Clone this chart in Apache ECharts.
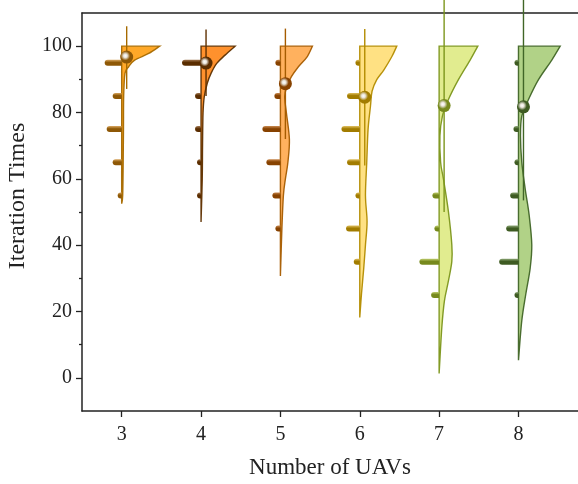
<!DOCTYPE html>
<html>
<head>
<meta charset="utf-8">
<script src="https://cdn.jsdelivr.net/npm/echarts@6/dist/echarts.min.js"></script>
<style>
  html, body { margin: 0; padding: 0; background: #fff; }
  #chart { width: 578px; height: 484px; }
</style>
</head>
<body>
<div id="chart"></div>
<script>
// number of UAVs on the x axis
var uavCounts = [3, 4, 5, 6, 7, 8];
// mean and mean±SD line of the iteration times
var meanIter = [96.7, 94.9, 88.7, 84.6, 82.1, 81.7];
var sdLow = [87.1, 85.0, 72.0, 64.0, 50.0, 53.5];
var sdHigh = [106.0, 105.0, 105.3, 105.2, 115.0, 115.0];

// histogram bins (left side) and relative counts per bin
var binCenters = [25, 35, 45, 55, 65, 75, 85, 95];
var hist3 = [0, 0, 0, 4, 9, 15, 9, 17];
var hist4 = [0, 0, 0, 4, 4, 6, 6, 19];
var hist5 = [0, 0, 5, 8, 14, 18, 6, 5];
var hist6 = [0, 6, 13.7, 4.3, 12.7, 18.3, 12.7, 4.3];
var hist7 = [8, 19.7, 4.7, 6.7, 0, 0, 0, 0];
var hist8 = [4, 19.3, 12.3, 8.3, 4, 5, 0, 4];

// half violin (right side): [iteration value, relative density]
var violin3 = [[100, 38], [97.8, 27], [95.8, 13], [93.8, 7], [91.8, 3.3], [85, 2], [75, 1.8], [65, 1.5], [55, 1], [52.5, 0]];
var violin4 = [[100, 34], [97.3, 24], [94.8, 15.7], [91.8, 10], [88.9, 6.3], [84.9, 3.3], [79.9, 2], [70, 1.5], [60, 1.2], [47, 0]];
var violin5 = [[100, 32], [96.8, 26.7], [93.8, 18], [90.8, 11], [87.9, 6.7], [84.9, 4.3], [79.9, 6], [71.9, 9], [65, 7.5], [60, 5], [55, 3], [45, 1.5], [30.7, 0]];
var violin6 = [[100, 37], [96.8, 32], [92.8, 24], [89.9, 17], [86.4, 12.3], [81.9, 10.7], [74.9, 8.3], [65, 7], [55, 5.7], [47.1, 7.3], [40.1, 5.7], [33.1, 4], [25.2, 1.7], [18.2, 0]];
var violin7 = [[100, 38.7], [95.8, 31], [89.9, 19.3], [83.9, 9.3], [78.9, 3.3], [72.9, 0.8], [65, 1.5], [60, 4.3], [50.1, 9.3], [40.1, 12.7], [35.1, 12.7], [29.2, 9.3], [23.2, 5.3], [15.2, 2.7], [1.3, 0]];
var violin8 = [[100, 41.7], [95.8, 33.3], [89.9, 20], [83.9, 10], [78.9, 3.3], [72.9, 2], [65, 3.3], [57, 6.7], [49, 10.7], [40.1, 13.3], [33.1, 11.7], [25.2, 7.3], [17.2, 3.3], [5.3, 0]];

var yMajor = [0, 20, 40, 60, 80, 100];
var yMinor = [10, 30, 50, 70, 90];

var hists = [hist3, hist4, hist5, hist6, hist7, hist8];
var violins = [violin3, violin4, violin5, violin6, violin7, violin8];

var fillColors = ['#FFA31C', '#FF8B22', '#FFAD55', '#FFDF7C', '#DFEB89', '#ADD081'];
var edgeColors = ['#A66A00', '#5E3000', '#A65C00', '#B38C00', '#7C961C', '#416627'];
var barColors = ['#8E5806', '#5A2D00', '#874200', '#A27C00', '#76891D', '#3E5B22'];
var lightBar = ['#D9A760', '#A07650', '#C98A50', '#E0C060', '#C1CF70', '#8EA877'];

var font = '"Liberation Serif", "Times New Roman", serif';
var axisColor = '#222';

function smoothPath(pts) {
  var d = '';
  for (var i = 0; i < pts.length - 1; i++) {
    var p0 = pts[i - 1] || pts[i], p1 = pts[i], p2 = pts[i + 1], p3 = pts[i + 2] || p2;
    var c1x = p1[0] + (p2[0] - p0[0]) / 6, c1y = p1[1] + (p2[1] - p0[1]) / 6;
    var c2x = p2[0] - (p3[0] - p1[0]) / 6, c2y = p2[1] - (p3[1] - p1[1]) / 6;
    d += ' C' + c1x + ',' + c1y + ' ' + c2x + ',' + c2y + ' ' + p2[0] + ',' + p2[1];
  }
  return d;
}

function renderItem(params, api) {
  var i = params.dataIndex;
  var cat = api.value(0);
  var children = [];

  // half violin
  var top = api.coord([cat, violins[i][0][0]]);
  var pts = violins[i].map(function (p) {
    var c = api.coord([cat, p[0]]);
    return [c[0] + p[1], c[1]];
  });
  var d = 'M' + top[0] + ',' + top[1] + ' L' + pts[0][0] + ',' + pts[0][1] + smoothPath(pts) + ' Z';
  children.push({
    type: 'path',
    shape: { pathData: d },
    style: { fill: fillColors[i], stroke: edgeColors[i], lineWidth: 1.4, opacity: 0.95 }
  });

  // histogram bars
  hists[i].forEach(function (n, k) {
    if (!n) return;
    var c = api.coord([cat, binCenters[k]]);
    children.push({
      type: 'rect',
      shape: { x: c[0] - n, y: c[1] - 3, width: n, height: 6, r: [3, 0, 0, 3] },
      style: {
        fill: new echarts.graphic.LinearGradient(0, 0, 0, 1, [
          { offset: 0, color: lightBar[i] },
          { offset: 0.45, color: barColors[i] },
          { offset: 1, color: barColors[i] }
        ])
      }
    });
  });

  // mean ± SD line
  var lo = api.coord([cat, api.value(2)]);
  var hi = api.coord([cat, api.value(3)]);
  children.push({
    type: 'line',
    shape: { x1: lo[0] + 5, y1: lo[1], x2: hi[0] + 5, y2: hi[1] },
    style: { stroke: edgeColors[i], lineWidth: 1.4 }
  });

  // mean sphere
  var m = api.coord([cat, api.value(1)]);
  children.push({
    type: 'circle',
    shape: { cx: m[0] + 5, cy: m[1], r: 6.5 },
    style: {
      fill: new echarts.graphic.RadialGradient(0.4, 0.4, 0.65, [
        { offset: 0, color: '#ffffff' },
        { offset: 0.22, color: '#e9e4da' },
        { offset: 0.55, color: barColors[i] },
        { offset: 1, color: barColors[i] }
      ])
    }
  });

  return { type: 'group', children: children };
}

var chart = echarts.init(document.getElementById('chart'), null, { renderer: 'canvas' });
chart.setOption({
  animation: false,
  grid: { left: 82, right: 0, top: 13, bottom: 70 },
  xAxis: [{
    type: 'value',
    min: 2.5,
    max: 8.75,
    splitLine: { show: false },
    axisLine: { show: true, onZero: false, lineStyle: { color: axisColor, width: 1.5 } },
    axisTick: { show: true, customValues: uavCounts, length: 6, lineStyle: { color: axisColor, width: 1.3 } },
    axisLabel: { customValues: uavCounts, color: axisColor, fontSize: 20, fontFamily: font, margin: 14 },
    name: 'Number of UAVs',
    nameLocation: 'middle',
    nameGap: 45,
    nameTextStyle: { color: axisColor, fontSize: 23, fontFamily: font }
  }, {
    type: 'value',
    position: 'top',
    min: 2.5,
    max: 8.75,
    splitLine: { show: false },
    axisLine: { show: true, onZero: false, lineStyle: { color: axisColor, width: 1.5 } },
    axisTick: { show: false },
    axisLabel: { show: false }
  }],
  yAxis: [{
    type: 'value',
    position: 'left',
    min: -10,
    max: 110,
    splitLine: { show: false },
    axisLine: { show: true, onZero: false, lineStyle: { color: axisColor, width: 1.5 } },
    axisTick: { show: true, customValues: yMajor, length: 6, lineStyle: { color: axisColor, width: 1.3 } },
    axisLabel: { customValues: yMajor, color: axisColor, fontSize: 20, fontFamily: font, margin: 10 }
  }, {
    type: 'value',
    position: 'left',
    min: -10,
    max: 110,
    splitLine: { show: false },
    axisLine: { show: false },
    axisTick: { show: true, customValues: yMinor, length: 3, lineStyle: { color: axisColor, width: 1.3 } },
    axisLabel: { show: false }
  }],
  graphic: [{
    type: 'text',
    x: 18,
    y: 196,
    rotation: Math.PI / 2,
    style: {
      text: 'Iteration Times',
      fill: axisColor,
      font: '24px ' + font,
      align: 'center',
      verticalAlign: 'middle'
    }
  }],
  series: [{
    type: 'custom',
    clip: false,
    xAxisIndex: 0,
    yAxisIndex: 0,
    renderItem: renderItem,
    data: uavCounts.map(function (c, i) {
      return [c, meanIter[i], sdLow[i], sdHigh[i]];
    })
  }]
});
</script>
</body>
</html>
